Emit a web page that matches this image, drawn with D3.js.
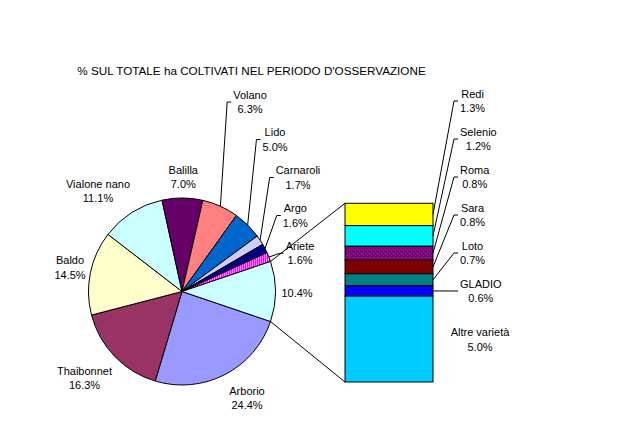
<!DOCTYPE html>
<html>
<head>
<meta charset="utf-8">
<script src="https://cdn.jsdelivr.net/npm/d3@7/dist/d3.min.js"></script>
<style>
  body { margin: 0; background: #fff; }
  text { font-family: "Liberation Sans", Arial, sans-serif; font-size: 11px; fill: #000; }
</style>
</head>
<body>
<div id="chart"></div>
<script>
//----------------------------
// Data
//----------------------------

var title = "% SUL TOTALE ha COLTIVATI NEL PERIODO D'OSSERVAZIONE";

// pie slices, clockwise after the "other" slice
var pieNames = ["Arborio", "Thaibonnet", "Baldo", "Vialone nano", "Balilla", "Volano", "Lido", "Carnaroli", "Argo", "Ariete"];
var pieValues = [24.4, 16.3, 14.5, 11.1, 7.0, 6.3, 5.0, 1.7, 1.6, 1.6];

// split-out bar, top to bottom
var barNames = ["Redi", "Selenio", "Roma", "Sara", "Loto", "GLADIO", "Altre varietà"];
var barValues = [1.3, 1.2, 0.8, 0.8, 0.7, 0.6, 5.0];

//----------------------------
// Styles / layout
//----------------------------

var pieColors = ["#9999ff", "#993366", "#ffffcc", "#ccffff", "#660066", "#ff8080", "#0066cc", "#ccccff", "#000080", "url(#dotMagenta)"];
var otherColor = "#ccffff";
var barColors = ["#ffff00", "#00ffff", "url(#dotPurple)", "#800000", "#008080", "#0000ff", "#00ccff"];

// label box centres (Excel labels were dragged by hand)
var pieLabelAt = {
    "Arborio": [247, 398], "Thaibonnet": [84.5, 378], "Baldo": [70, 267.5],
    "Vialone nano": [98, 191], "Balilla": [183.3, 177], "Volano": [250, 102],
    "Lido": [275, 139.5], "Carnaroli": [298, 177.5], "Argo": [295.3, 215.5],
    "Ariete": [300, 253.3], "other": [297, 293.3]
};
var withLeader = ["Volano", "Lido", "Carnaroli", "Argo", "Ariete"];

var w = 639, h = 425;
var cx = 182, cy = 291.5, R = 93.5;
var bar = { x: 345, w: 88, top: 203.3, bottom: 382 };
var barLabelLeft = 460, barLabelTop = 101, barLabelStep = 38;
var restLabelAt = [480, 339.5];

var fmt = d3.format(".1f");
var lineGap = 7.3;

var svg = d3.select("#chart")
    .append("svg")
    .attr("width", w)
    .attr("height", h);

// dithered fills
var defs = svg.append("defs");
var p1 = defs.append("pattern").attr("id", "dotMagenta")
    .attr("width", 2).attr("height", 2).attr("patternUnits", "userSpaceOnUse");
p1.append("rect").attr("width", 2).attr("height", 2).attr("fill", "#ff00ff");
p1.append("rect").attr("width", 1).attr("height", 1).attr("fill", "#ffffff");
var p2 = defs.append("pattern").attr("id", "dotPurple")
    .attr("width", 4).attr("height", 4).attr("patternUnits", "userSpaceOnUse");
p2.append("rect").attr("width", 4).attr("height", 4).attr("fill", "#800080");
p2.append("rect").attr("x", 1).attr("y", 1).attr("width", 1).attr("height", 1).attr("fill", "#9a3a7a");
p2.append("rect").attr("x", 3).attr("y", 3).attr("width", 1).attr("height", 1).attr("fill", "#8a2a60");

svg.append("text")
    .attr("x", 251.5)
    .attr("y", 71)
    .attr("dy", "0.35em")
    .attr("text-anchor", "middle")
    .style("font-size", "11.7px")
    .text(title);

//----------------------------
// Helpers
//----------------------------

function onEdge(a) {
    return [cx + R * Math.sin(a), cy - R * Math.cos(a)];
}

// multi-line label, lines centred in their box; returns box left edge.
// if fromLeft is set, x is the box's left edge instead of its centre
function label(x, y, lines, fromLeft) {
    var t = svg.append("g");
    var n = lines.length;
    var texts = lines.map(function (s, i) {
        return t.append("text")
            .attr("y", y + (i - (n - 1) / 2) * 2 * lineGap)
            .attr("dy", "0.35em")
            .attr("text-anchor", "middle")
            .text(s);
    });
    var wd = d3.max(texts, el => el.node().getComputedTextLength());
    var mid = fromLeft ? x + wd / 2 : x;
    texts.forEach(el => el.attr("x", mid));
    return mid - wd / 2;
}

function leader(from, left, y) {
    svg.append("path")
        .attr("d", d3.line()([from, [left - 6, y], [left - 2, y]]))
        .attr("fill", "none")
        .attr("stroke", "#000")
        .attr("stroke-width", 1);
}

//----------------------------
// Pie
//----------------------------

var otherValue = d3.sum(barValues);
var slices = pieNames.map(function (n, i) {
    return { name: n, value: pieValues[i], color: pieColors[i] };
});
slices.push({ name: "other", value: otherValue, color: otherColor });

var total = d3.sum(slices, d => d.value);
var otherSpan = otherValue / total * 2 * Math.PI;
var start = Math.PI / 2 + otherSpan / 2;

var pie = d3.pie()
    .sort(null)
    .value(d => d.value)
    .startAngle(start)
    .endAngle(start + 2 * Math.PI);

var arc = d3.arc().innerRadius(0).outerRadius(R);
var arcs = pie(slices);

svg.append("g")
    .attr("transform", "translate(" + cx + "," + cy + ")")
    .selectAll("path")
    .data(arcs)
    .enter()
    .append("path")
    .attr("d", arc)
    .attr("fill", d => d.data.color)
    .attr("stroke", "#000")
    .attr("stroke-width", 1);

arcs.forEach(function (d) {
    var name = d.data.name;
    var at = pieLabelAt[name];
    var lines = name === "other" ? [fmt(d.value) + "%"] : [name, fmt(d.value) + "%"];
    var left = label(at[0], at[1], lines);
    if (withLeader.indexOf(name) >= 0) {
        leader(onEdge((d.startAngle + d.endAngle) / 2), left, at[1]);
    }
});

//----------------------------
// Bar of the "other" slice
//----------------------------

var y = d3.scaleLinear()
    .domain([0, otherValue])
    .range([bar.bottom, bar.top]);

// stack from the bottom up
var cum = 0;
var segs = barNames.map((n, i) => ({ name: n, value: barValues[i], color: barColors[i] }))
    .reverse()
    .map(function (d) {
        d.y0 = cum;
        cum += d.value;
        d.y1 = cum;
        return d;
    })
    .reverse();

svg.append("g")
    .selectAll("rect")
    .data(segs)
    .enter()
    .append("rect")
    .attr("x", bar.x)
    .attr("width", bar.w)
    .attr("y", d => y(d.y1))
    .attr("height", d => y(d.y0) - y(d.y1))
    .attr("fill", d => d.color)
    .attr("stroke", "#000")
    .attr("stroke-width", 1);

// connectors pie -> bar
var oth = arcs[arcs.length - 1];
svg.append("path")
    .attr("d", d3.line()([onEdge(oth.startAngle), [bar.x, y(otherValue)]]))
    .attr("stroke", "#000").attr("fill", "none");
svg.append("path")
    .attr("d", d3.line()([onEdge(oth.endAngle), [bar.x, y(0)]]))
    .attr("stroke", "#000").attr("fill", "none");

// bar labels
segs.forEach(function (d, i) {
    var lines = [d.name, fmt(d.value) + "%"];
    if (i === segs.length - 1) {
        label(restLabelAt[0], restLabelAt[1], lines);
        return;
    }
    var ly = barLabelTop + i * barLabelStep;
    var left = label(barLabelLeft, ly, lines, true);
    leader([bar.x + bar.w, y((d.y0 + d.y1) / 2)], left, ly);
});
</script>
</body>
</html>
